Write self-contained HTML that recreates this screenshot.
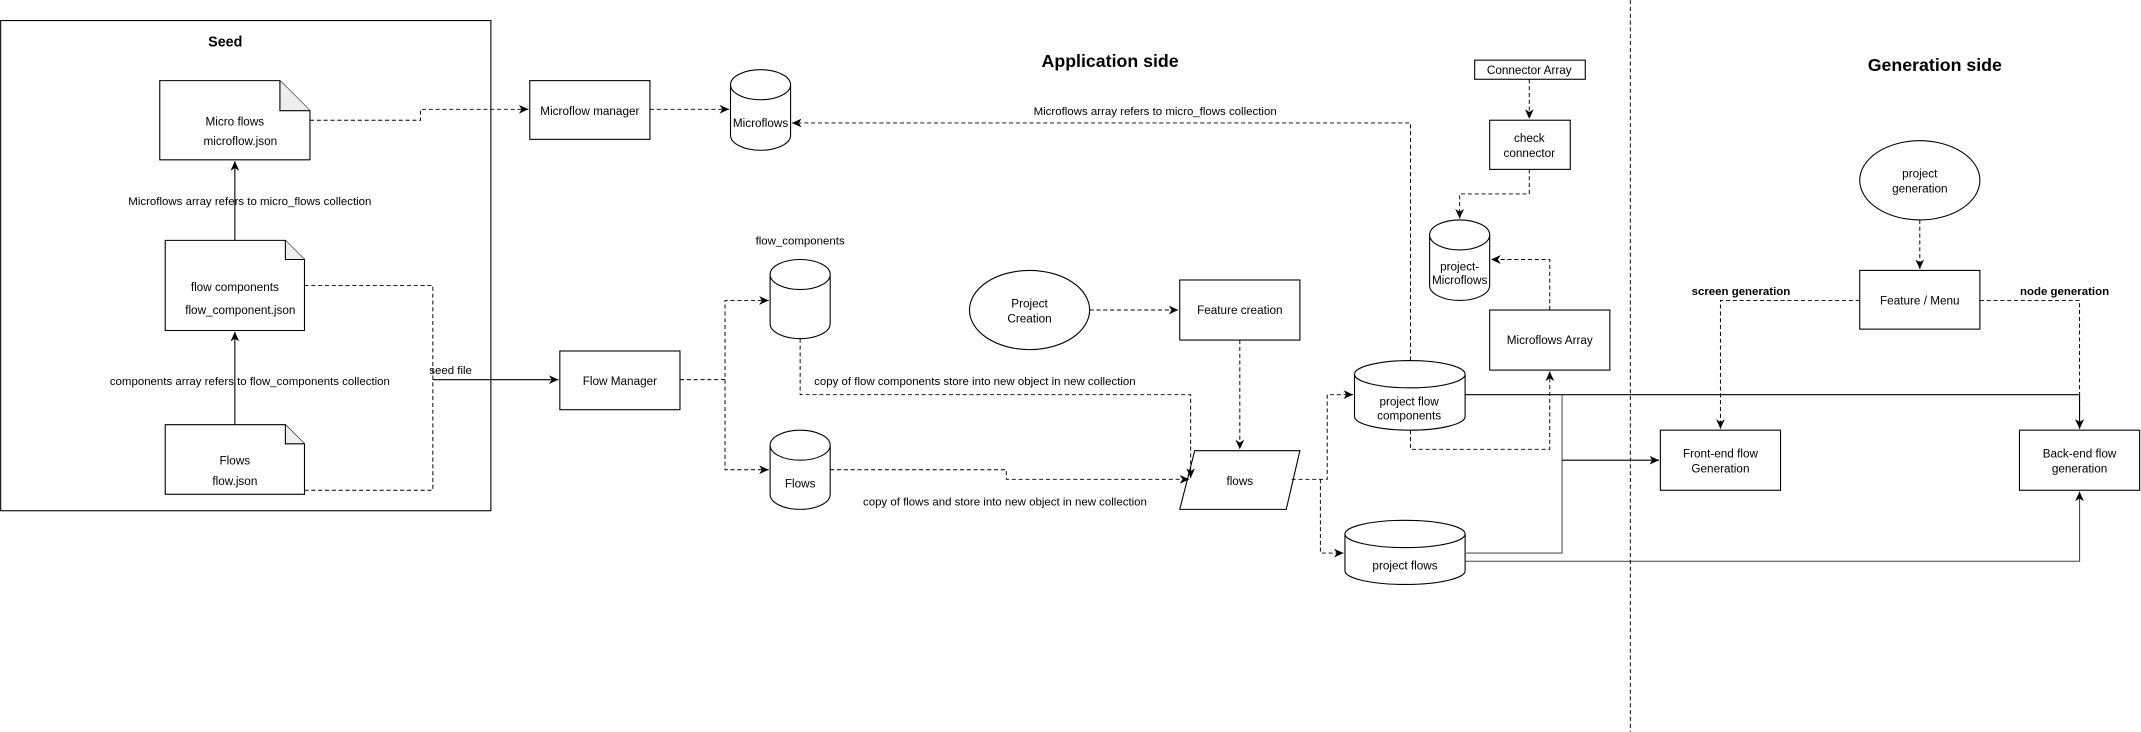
<!DOCTYPE html>
<html><head><meta charset="utf-8"><style>html,body{margin:0;padding:0;background:#fff}svg{display:block}text{font-family:"Liberation Sans",sans-serif;font-size:8.6px;fill:#000;text-anchor:middle}.b{font-weight:bold}</style></head><body>
<svg width="2141" height="732" viewBox="0 0 1568 536" xmlns="http://www.w3.org/2000/svg">
<defs><marker id="a" markerUnits="userSpaceOnUse" markerWidth="8" markerHeight="8" refX="7" refY="4" orient="auto"><path d="M0,0.8 L7,4 L0,7.2 L2,4 Z" fill="#000"/></marker></defs>
<rect width="1568" height="536" fill="#fff"/>
<g fill="none" stroke="#000" stroke-width="0.8">
<rect x="0.5" y="15" width="359" height="359"/>
<path d="M117,59 H205 L227,81 V117 H117 Z"/><path d="M205,59 V81 H227" fill="#eee"/>
<path d="M121,176 H209 L223,190 V242 H121 Z"/><path d="M209,176 V190 H223" fill="#eee"/>
<path d="M121,311 H209 L223,325 V362 H121 Z"/><path d="M209,311 V325 H223" fill="#eee"/>
<path d="M172,176 V118" marker-end="url(#a)"/>
<path d="M172,311 V243" marker-end="url(#a)"/>
<rect x="388" y="59" width="88" height="43"/>
<rect x="410" y="257" width="88" height="43"/>
<path d="M535,62 V99 A22,11 0 0 0 579,99 V62 A22,11 0 0 0 535,62 A22,11 0 0 0 579,62"/>
<path d="M564,201 V237 A22,11 0 0 0 608,237 V201 A22,11 0 0 0 564,201 A22,11 0 0 0 608,201"/>
<path d="M564,326 V362 A22,11 0 0 0 608,362 V326 A22,11 0 0 0 564,326 A22,11 0 0 0 608,326"/>
<ellipse cx="754" cy="227" rx="44" ry="29"/>
<rect x="864" y="205" width="88" height="44"/>
<path d="M875,330 H952 L942,373 H864 Z"/>
<path d="M992,274 V305 A40.5,10 0 0 0 1073,305 V274 A40.5,10 0 0 0 992,274 A40.5,10 0 0 0 1073,274"/>
<path d="M985,391 V418 A44,10 0 0 0 1073,418 V391 A44,10 0 0 0 985,391 A44,10 0 0 0 1073,391"/>
<path d="M1047,172 V209 A22,11 0 0 0 1091,209 V172 A22,11 0 0 0 1047,172 A22,11 0 0 0 1091,172"/>
<rect x="1091" y="227" width="88" height="44"/>
<rect x="1080" y="44" width="81" height="14"/>
<rect x="1091" y="88" width="59" height="36"/>
<ellipse cx="1406" cy="132" rx="44" ry="29"/>
<rect x="1362" y="198" width="88" height="43"/>
<rect x="1216" y="315" width="88" height="44"/>
<rect x="1479" y="315" width="88" height="44"/>
<path d="M317,278 H409" marker-end="url(#a)"/>
<path d="M1073,289 H1523 V314" marker-end="url(#a)"/>
<path d="M1144,289 V405 H1073" stroke="#555"/>
<path d="M1144,337 H1215" marker-end="url(#a)"/>
<path d="M1073,411 H1523 V360" stroke="#444" marker-end="url(#a)"/>
</g>
<g fill="none" stroke="#000" stroke-width="0.7" stroke-dasharray="3,2">
<path d="M227,88 H308 V80 H387" marker-end="url(#a)"/>
<path d="M223,209 H317 V359 H223"/>
<path d="M476,80 H534" marker-end="url(#a)"/>
<path d="M498,278 H531 V220 H563" marker-end="url(#a)"/>
<path d="M531,278 V344 H563" marker-end="url(#a)"/>
<path d="M586,248 V289 H872 V350" marker-end="url(#a)"/>
<path d="M608,344 H737 V351 H871" marker-end="url(#a)"/>
<path d="M798,227 H863" marker-end="url(#a)"/>
<path d="M908,249 V329" marker-end="url(#a)"/>
<path d="M946,351 H972 V289 H991" marker-end="url(#a)"/>
<path d="M967,351 V405 H984" marker-end="url(#a)"/>
<path d="M1033,264 V90 H580" marker-end="url(#a)"/>
<path d="M1033,315 V329 H1135 V272" marker-end="url(#a)"/>
<path d="M1135,227 V190 H1092" marker-end="url(#a)"/>
<path d="M1120,58 V87" marker-end="url(#a)"/>
<path d="M1120,124 V142 H1069 V160" marker-end="url(#a)"/>
<path d="M1406,161 V197" marker-end="url(#a)"/>
<path d="M1362,220 H1260 V314" marker-end="url(#a)"/>
<path d="M1450,220 H1523 V314" marker-end="url(#a)"/>
<path d="M1194,0 V536"/>
</g>
<text x="165" y="34" class="b" style="font-size:10.5px">Seed</text>
<text x="172" y="92">Micro flows</text><text x="176" y="106">microflow.json</text>
<text x="172" y="213">flow components</text><text x="176" y="230">flow_component.json</text>
<text x="172" y="340">Flows</text><text x="172" y="355">flow.json</text>
<text x="183" y="150" style="font-size:8.4px">Microflows array refers to micro_flows collection</text>
<text x="183" y="282" style="font-size:8.4px">components array refers to flow_components collection</text>
<text x="330" y="274" style="font-size:8.4px">seed file</text>
<text x="432" y="84">Microflow manager</text>
<text x="454" y="282">Flow Manager</text>
<text x="557" y="93">Microflows</text>
<text x="586" y="179" style="font-size:8.4px">flow_components</text>
<text x="586" y="357">Flows</text>
<text x="714" y="282" style="font-size:8.4px">copy of flow components store into new object in new collection</text>
<text x="736" y="370" style="font-size:8.4px">copy of flows and store into new object in new collection</text>
<text x="813" y="49" class="b" style="font-size:13px">Application side</text>
<text x="754" y="225">Project</text><text x="754" y="236">Creation</text>
<text x="908" y="230">Feature creation</text>
<text x="908" y="355">flows</text>
<text x="846" y="84" style="font-size:8.4px">Microflows array refers to micro_flows collection</text>
<text x="1032" y="297">project flow</text><text x="1032" y="307">components</text>
<text x="1029" y="417">project flows</text>
<text x="1069" y="198">project-</text><text x="1069" y="208">Microflows</text>
<text x="1135" y="252">Microflows Array</text>
<text x="1120" y="54">Connector Array</text>
<text x="1120" y="104">check</text><text x="1120" y="115">connector</text>
<text x="1417" y="52" class="b" style="font-size:13px">Generation side</text>
<text x="1406" y="130">project</text><text x="1406" y="141">generation</text>
<text x="1406" y="223">Feature / Menu</text>
<text x="1275" y="216" class="b" style="font-size:8.4px">screen generation</text>
<text x="1512" y="216" class="b" style="font-size:8.4px">node generation</text>
<text x="1260" y="335">Front-end flow</text><text x="1260" y="346">Generation</text>
<text x="1523" y="335">Back-end flow</text><text x="1523" y="346">generation</text>
</svg>
</body></html>
